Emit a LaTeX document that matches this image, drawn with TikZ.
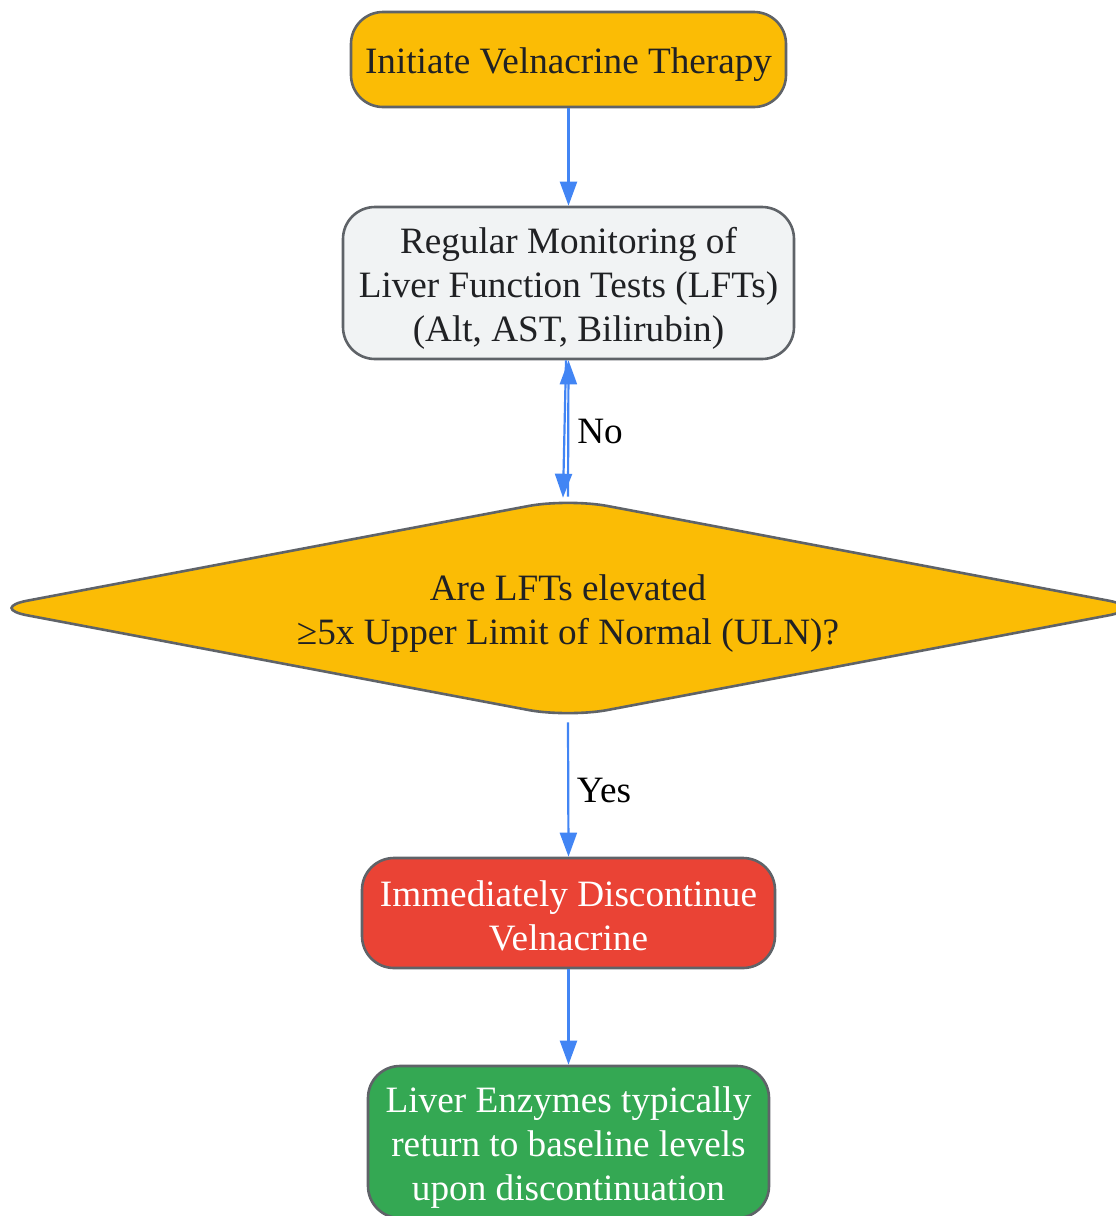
\documentclass[tikz,border=0pt]{standalone}
\usepackage{fontspec}
\setmainfont{Liberation Serif}
\usetikzlibrary{arrows.meta,shapes.geometric}
\definecolor{goldfill}{HTML}{FBBC05}
\definecolor{grayfill}{HTML}{F1F3F4}
\definecolor{redfill}{HTML}{EA4335}
\definecolor{greenfill}{HTML}{34A853}
\definecolor{bordergray}{HTML}{5F6368}
\definecolor{arrowblue}{HTML}{4285F4}
\definecolor{darktext}{HTML}{202124}
\newcommand{\lnstrut}{\rule[-6pt]{0pt}{43pt}}
\newcommand{\diagfont}{\fontsize{37.2}{44}\selectfont\setlength{\lineskiplimit}{-100pt}}
\begin{document}
\begin{tikzpicture}[x=1pt,y=-1pt,
  every node/.style={font=\diagfont},
  box/.style={draw=bordergray, line width=2.6pt, rounded corners=32pt, align=center, inner sep=0pt},
  dec/.style={diamond, draw=bordergray, line width=2.6pt, rounded corners=40pt, align=center, inner sep=0pt, aspect=5.25, fill=goldfill, text=darktext},
  arr/.style={draw=arrowblue, line width=2.2pt, -{Triangle[length=24pt,width=17pt]}},
  lbl/.style={text=black, inner sep=0pt}
]
\useasboundingbox (0,0) rectangle (1116,1216);
\node[box, fill=goldfill, text=darktext, minimum width=435pt, minimum height=95pt] (start) at (568.5,59.5) {\lnstrut Initiate Velnacrine Therapy};
\node[box, fill=grayfill, text=darktext, minimum width=451pt, minimum height=152pt] (mon) at (568.5,283) {\lnstrut Regular Monitoring of\\\lnstrut Liver Function Tests (LFTs)\\\lnstrut (Alt, AST, Bilirubin)};
\node[dec, minimum width=1160pt, minimum height=220pt] (q) at (568,608) {\lnstrut Are LFTs elevated\\\lnstrut ≥5x Upper Limit of Normal (ULN)?};
\node[box, fill=redfill, text=white, minimum width=413pt, minimum height=110pt] (stop) at (568.5,913) {\lnstrut Immediately Discontinue\\\lnstrut Velnacrine};
\node[box, fill=greenfill, text=white, minimum width=401pt, minimum height=152pt] (ret) at (568.5,1142) {\lnstrut Liver Enzymes typically\\\lnstrut return to baseline levels\\\lnstrut upon discontinuation};
\node[lbl] (no) at (600,431) {No};
\node[lbl] (yes) at (604,790) {Yes};
\draw[arr] (start) -- (mon);
\draw[arr] ([xshift=-2.5pt]mon.south) -- ([xshift=-5pt,yshift=-1pt]q.north);
\draw[arr] ([xshift=0pt]q.north) -- ([xshift=0pt]mon.south);
\draw[arr] ([yshift=-3pt]q.south) -- (stop.north);
\draw[arr] (stop) -- (ret);
\end{tikzpicture}
\end{document}
